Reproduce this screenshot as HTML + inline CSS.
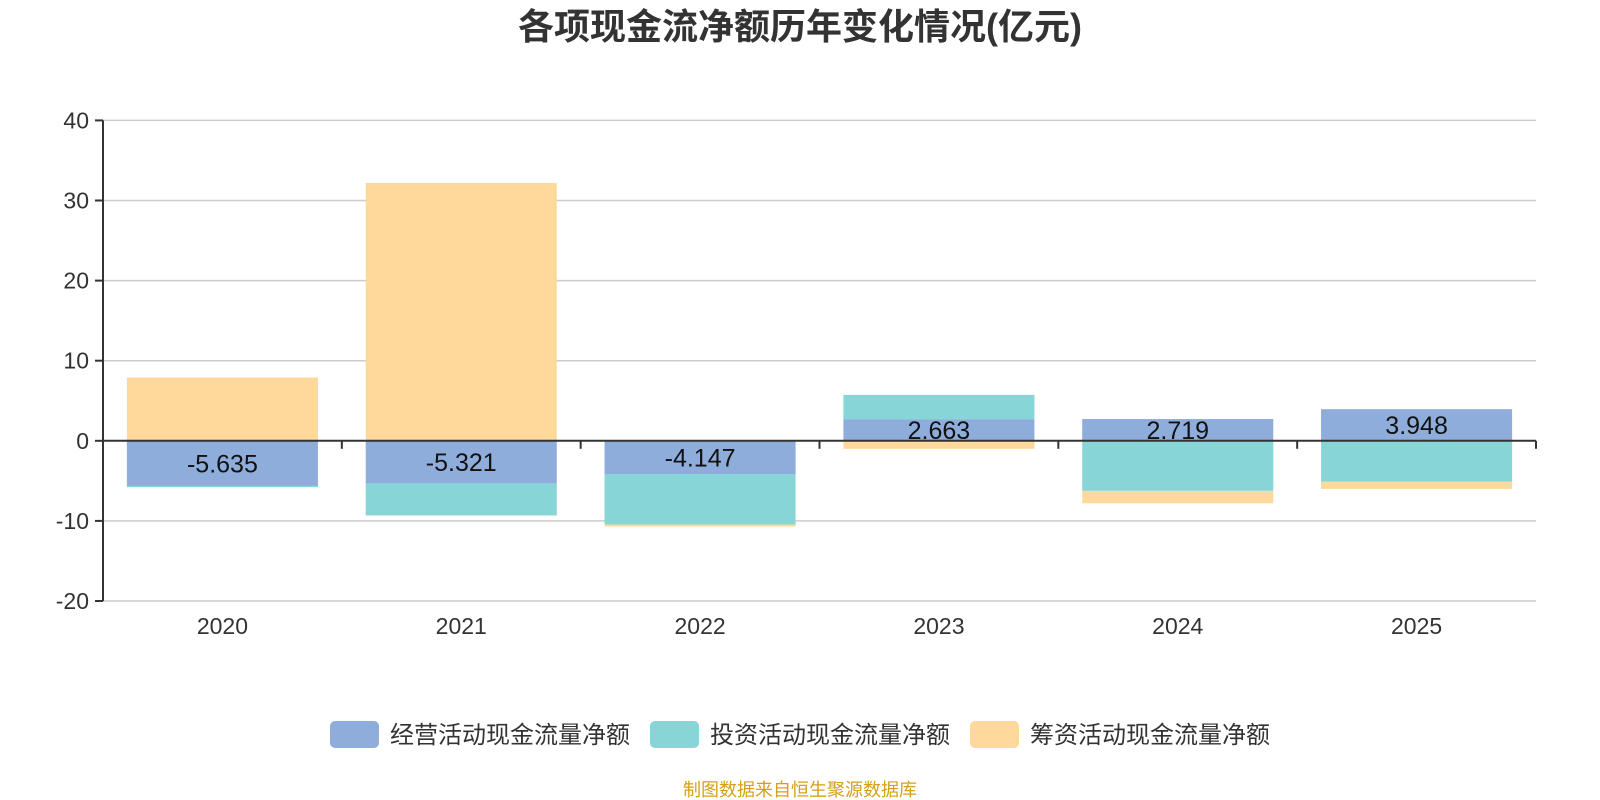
<!DOCTYPE html>
<html><head><meta charset="utf-8"><style>
body{margin:0;background:#fff;width:1600px;height:800px;overflow:hidden}
svg{display:block;font-family:"Liberation Sans","Noto Sans CJK SC",sans-serif}
</style></head><body>
<svg id="c" width="1600" height="800">
<text x="800" y="39" text-anchor="middle" font-size="36" font-weight="bold" fill="#333">各项现金流净额历年变化情况(亿元)</text>
<g id="grid"></g><g id="bars"></g><g id="axes"></g><g id="labels"></g>
<g>
<rect x="330" y="721" width="49" height="27" rx="5" fill="#8FADDB"/>
<text x="390" y="743" font-size="24" fill="#333">经营活动现金流量净额</text>
<rect x="650" y="721" width="49" height="27" rx="5" fill="#88D5D8"/>
<text x="710" y="743" font-size="24" fill="#333">投资活动现金流量净额</text>
<rect x="970" y="721" width="49" height="27" rx="5" fill="#FFD99B"/>
<text x="1030" y="743" font-size="24" fill="#333">筹资活动现金流量净额</text>
</g>
<text x="800" y="796" text-anchor="middle" font-size="18" fill="#D4A017">制图数据来自恒生聚源数据库</text>
</svg>
<script>
const categories=["2020","2021","2022","2023","2024","2025"];
const operating=[-5.635,-5.321,-4.147,2.663,2.719,3.948];
const investing=[-0.15,-4.0,-6.3,3.07,-6.25,-5.1];
const financing=[7.9,32.2,-0.25,-1.0,-1.55,-0.9];
const yTicks=[40,30,20,10,0,-10,-20];
const NS="http://www.w3.org/2000/svg";
const L=103,R=1536,T=120.4,B=601,ymax=40,ymin=-20;
const y=v=>T+(ymax-v)/(ymax-ymin)*(B-T);
const band=(R-L)/categories.length;
const x=i=>L+band*i;
function mk(tag,attrs,parent){const e=document.createElementNS(NS,tag);for(const k in attrs)e.setAttribute(k,attrs[k]);document.getElementById(parent).appendChild(e);return e;}
yTicks.forEach(t=>{
  if(t!==0){const g=mk('line',{x1:L,x2:R,y1:y(t),y2:y(t),stroke:'#ccc','stroke-width':1.5},'grid');
  
  }
  const tk=mk('line',{x1:L-8,x2:L,y1:y(t),y2:y(t),stroke:'#333','stroke-width':2},'axes');
  
  
  const tx=mk('text',{x:L-14,y:y(t)+8,'text-anchor':'end','font-size':23,fill:'#333'},'axes');
  tx.textContent=t;
  
  
});
const ya=mk('line',{x1:L,x2:L,y1:T,y2:B,stroke:'#333','stroke-width':2},'axes');


const xa=mk('line',{x1:L,x2:R,y1:y(0),y2:y(0),stroke:'#333','stroke-width':2},'axes');


for(let i=0;i<=categories.length;i++){
  const t=mk('line',{x1:x(i),x2:x(i),y1:y(0),y2:y(0)+8,stroke:'#333','stroke-width':2},'axes');
  
  
}
const series=[[operating,'#8FADDB','operating'],[investing,'#88D5D8','investing'],[financing,'#FFD99B','financing']];
const bw=band*0.8;
categories.forEach((c,i)=>{
  let pos=0,neg=0;
  const bx=x(i)+(band-bw)/2;
  series.forEach(([arr,col,nm])=>{
    const v=arr[i];let a,b;
    if(v>=0){a=pos;b=pos+v;pos=b;}else{a=neg;b=neg+v;neg=b;}
    const r=mk('rect',{x:bx,width:bw,y:Math.min(y(a),y(b)),height:Math.abs(y(a)-y(b)),fill:col},'bars');
    
    
  });
  const v=operating[i];
  const lb=mk('text',{x:bx+bw/2,y:(y(0)+y(v))/2+9,'text-anchor':'middle','font-size':25,fill:'#111'},'labels');
  lb.textContent=v.toFixed(3);
  
  
  const xl=mk('text',{x:x(i)+band/2,y:634,'text-anchor':'middle','font-size':23,fill:'#333'},'labels');
  xl.textContent=c;
  
  
});
</script>
</body></html>
